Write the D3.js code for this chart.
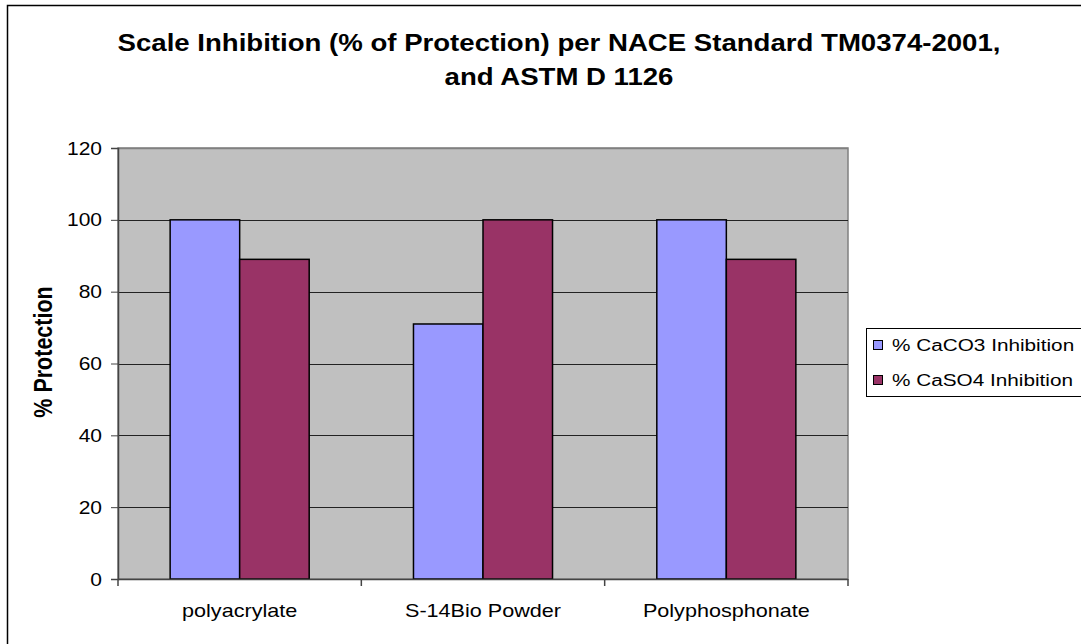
<!DOCTYPE html>
<html>
<head>
<meta charset="utf-8">
<script src="https://cdn.jsdelivr.net/npm/d3@7"></script>
<style>
  body { margin: 0; background: #fff; }
  svg { display: block; font-family: Arial, "Liberation Sans", sans-serif; }
</style>
</head>
<body>
<div class="chart"></div>
<script>
// data
var categories = ["polyacrylate", "S-14Bio Powder", "Polyphosphonate"];
var series_names = ["% CaCO3 Inhibition", "% CaSO4 Inhibition"];
var caco3_values = [100, 71, 100];
var caso4_values = [89, 100, 89];
var y_ticks = [0, 20, 40, 60, 80, 100, 120];
var title_lines = ["Scale Inhibition (% of Protection) per NACE Standard TM0374-2001,", "and ASTM D 1126"];

var width = 1081, height = 644;
var plot = {left: 118, right: 848, top: 148, bottom: 579};
var colors = ["#9999ff", "#993366"];
var sx = 1.2; // the original text looks stretched sideways

var svg = d3.select('.chart')
    .append('svg')
        .attr('width', width)
        .attr('height', height);

// outer frame
svg.append('rect')
    .attr('x', 7.5).attr('y', 5.5)
    .attr('width', 1090).attr('height', 650)
    .attr('fill', 'none')
    .attr('stroke', '#000')
    .attr('stroke-width', 1.5);

function stretched(sel, x, y) {
    return sel.attr('transform', 'translate(' + x + ',' + y + ') scale(' + sx + ',1)');
}

// title
title_lines.forEach(function(t, i) {
    svg.append('text')
        .call(stretched, 559, 51 + i * 34)
        .attr('text-anchor', 'middle')
        .style('font-weight', 'bold')
        .style('font-size', '23px')
        .text(t);
});

var x0 = d3.scaleBand()
    .domain(categories)
    .range([plot.left, plot.right]);

var x1 = d3.scaleBand()
    .domain(series_names)
    .range([0, x0.bandwidth()])
    .paddingOuter(0.75);

var y = d3.scaleLinear()
    .domain([0, 120])
    .range([plot.bottom, plot.top]);

// plot background
svg.append('rect')
    .attr('x', plot.left).attr('y', plot.top)
    .attr('width', plot.right - plot.left)
    .attr('height', plot.bottom - plot.top)
    .attr('fill', '#c0c0c0')
    .attr('stroke', '#808080')
    .attr('stroke-width', 1.5);

// gridlines
svg.selectAll('.grid')
    .data(y_ticks.filter(function(d) { return d > 0; }))
    .enter()
    .append('line')
        .attr('x1', plot.left).attr('x2', plot.right)
        .attr('y1', function(d) { return Math.round(y(d)) + 0.5; })
        .attr('y2', function(d) { return Math.round(y(d)) + 0.5; })
        .attr('stroke', function(d) { return d == 120 ? '#808080' : '#222'; })
        .attr('stroke-width', function(d) { return d == 120 ? 1.5 : 1.2; });

// bars
var rows = categories.map(function(c, i) {
    return [{key: series_names[0], value: caco3_values[i]}, {key: series_names[1], value: caso4_values[i]}];
});

var groups = svg.selectAll('.group')
    .data(rows)
    .enter()
    .append('g')
        .attr('transform', function(d, i) { return 'translate(' + x0(categories[i]) + ',0)'; });

groups.selectAll('rect')
    .data(function(d) { return d; })
    .enter()
    .append('rect')
        .attr('x', function(d) { return x1(d.key); })
        .attr('y', function(d) { return y(d.value); })
        .attr('width', x1.bandwidth())
        .attr('height', function(d) { return y(0) - y(d.value); })
        .attr('fill', function(d, i) { return colors[i]; })
        .attr('stroke', '#000')
        .attr('stroke-width', 1.5);

// y axis
var yAxis = svg.append('g')
    .attr('transform', 'translate(' + plot.left + ',0)')
    .call(d3.axisLeft(y).tickValues(y_ticks).tickSize(7).tickPadding(9));
yAxis.select('.domain').attr('stroke', '#444').attr('stroke-width', 1.5);
yAxis.selectAll('.tick line').attr('stroke', '#444');
yAxis.selectAll('.tick text')
    .attr('x', null).attr('dy', null)
    .attr('transform', 'translate(-16,6) scale(' + sx + ',1)')
    .attr('fill', '#000')
    .style('font-size', '17.5px')
    .style('font-family', 'Arial, "Liberation Sans", sans-serif');

// x axis: ticks at category boundaries
var bounds = categories.map(function(c) { return x0(c); }).concat([plot.right]);
var xAxis = svg.append('g');
xAxis.append('line')
    .attr('x1', plot.left).attr('x2', plot.right)
    .attr('y1', plot.bottom + 0.5).attr('y2', plot.bottom + 0.5)
    .attr('stroke', '#444').attr('stroke-width', 1.5);
xAxis.selectAll('.xt')
    .data(bounds)
    .enter()
    .append('line')
        .attr('x1', function(d) { return d; }).attr('x2', function(d) { return d; })
        .attr('y1', plot.bottom).attr('y2', plot.bottom + 7)
        .attr('stroke', '#444').attr('stroke-width', 1.5);
xAxis.selectAll('.xl')
    .data(categories)
    .enter()
    .append('text')
        .each(function(d) { stretched(d3.select(this), x0(d) + x0.bandwidth() / 2, 617); })
        .attr('text-anchor', 'middle')
        .style('font-size', '18px')
        .text(function(d) { return d; });

// y axis title
svg.append('text')
    .attr('transform', 'translate(52,352) scale(' + sx + ',1) rotate(-90)')
    .attr('text-anchor', 'middle')
    .style('font-weight', 'bold')
    .style('font-size', '21.5px')
    .text('% Protection');

// legend
var legend = svg.append('g');
legend.append('rect')
    .attr('x', 866.5).attr('y', 328.5)
    .attr('width', 300).attr('height', 68)
    .attr('fill', '#fff')
    .attr('stroke', '#000');

var items = legend.selectAll('.item')
    .data(series_names)
    .enter()
    .append('g');
items.append('rect')
    .attr('x', 873.5)
    .attr('y', function(d, i) { return 340.5 + i * 35; })
    .attr('width', 9).attr('height', 9)
    .attr('fill', function(d, i) { return colors[i]; })
    .attr('stroke', '#000');
items.append('text')
    .each(function(d, i) { stretched(d3.select(this), 892, 351 + i * 35); })
    .style('font-size', '17.3px')
    .text(function(d) { return d; });
</script>
</body>
</html>
